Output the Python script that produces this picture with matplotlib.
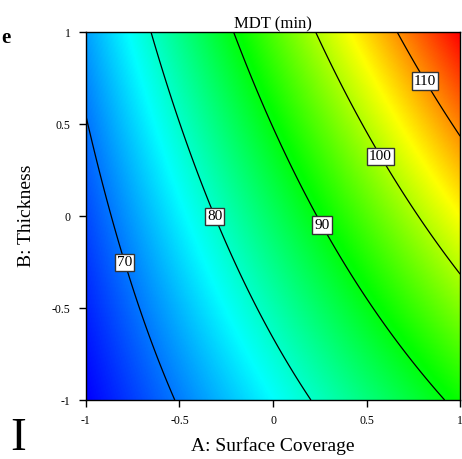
import numpy as np
import matplotlib
matplotlib.use("Agg")
import matplotlib.pyplot as plt
from matplotlib.colors import LinearSegmentedColormap

# coded factor range
a_range = [-1, 1]
b_range = [-1, 1]

# quadratic response model for MDT (min)
b0 = 85.7
bA = 18.3
bB = 8.8
bAB = 4.5
bAA = 0.17
bBB = 0.3

levels = [70, 80, 90, 100, 110]
label_pos = [(-0.79, -0.25), (-0.31, 0.0), (0.26, -0.05), (0.6, 0.34), (0.84, 0.75)]

tick_vals = [-1, -0.5, 0, 0.5, 1]
tick_labels = ["-1", "-0.5", "0", "0.5", "1"]

plt.rcParams['font.family'] = ['Liberation Serif', 'DejaVu Serif']

A, B = np.meshgrid(np.linspace(*a_range, 300), np.linspace(*b_range, 300))
mdt = b0 + bA * A + bB * B + bAB * A * B + bAA * A ** 2 + bBB * B ** 2

cmap = LinearSegmentedColormap.from_list(
    "de", ["#0000ff", "#00ffff", "#00ff00", "#ffff00", "#ff0000"])

fig = plt.figure(figsize=(4.62, 4.59), dpi=100)
ax = fig.add_axes([0.186, 0.1285, 0.81, 0.8017])

ax.imshow(mdt, extent=[-1, 1, -1, 1], origin="lower", cmap=cmap,
          aspect="auto", interpolation="bilinear")
cs = ax.contour(A, B, mdt, levels=levels, colors="black", linewidths=0.9)
lbls = ax.clabel(cs, fmt="%d", fontsize=11, inline=False, manual=label_pos)
for t in lbls:
    t.set_rotation(0)
    t.set_zorder(5)
    t.set_bbox(dict(facecolor="white", edgecolor="#333333", linewidth=1, pad=1.5))

ax.set_xlim(-1, 1)
ax.set_ylim(-1, 1)
ax.set_xticks(tick_vals)
ax.set_xticklabels(tick_labels)
ax.set_yticks(tick_vals)
ax.set_yticklabels(tick_labels)
ax.tick_params(direction="out", length=5, width=1, labelsize=8.5, pad=6)
for s in ax.spines.values():
    s.set_linewidth(1)

ax.set_title("MDT (min)", fontsize=12, pad=2)
ax.set_xlabel("A: Surface Coverage", fontsize=14, labelpad=7)
ax.set_ylabel("B: Thickness", fontsize=14, labelpad=12)

fig.text(0.003, 0.918, "e", fontsize=15, fontweight="bold", va="center")
fig.text(0.022, 0.045, "I", fontsize=34, va="center")

fig.savefig("out.png", dpi=100)
